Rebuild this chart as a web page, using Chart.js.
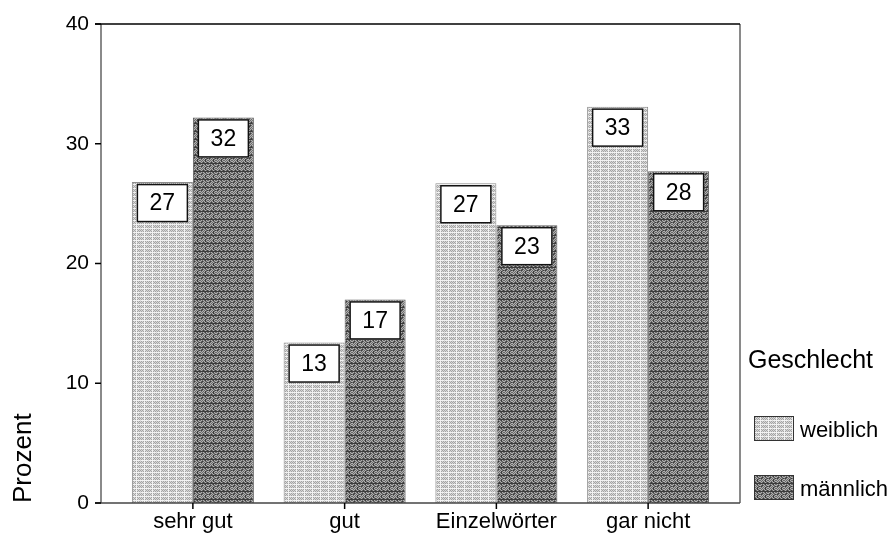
<!DOCTYPE html>
<html><head><meta charset="utf-8">
<script src="https://cdn.jsdelivr.net/npm/chart.js@4/dist/chart.umd.min.js"></script>
<style>html,body{margin:0;padding:0;background:#fff}#wrap{width:893px;height:536px;position:relative}</style>
</head><body><div id="wrap"><canvas id="c" width="893" height="536"></canvas></div>
<script>
const categories = ['sehr gut', 'gut', 'Einzelwörter', 'gar nicht'];
const weiblich = [26.8, 13.4, 26.7, 33.1];
const maennlich = [32.2, 17.0, 23.2, 27.7];
const seriesNames = ['weiblich', 'männlich'];
const legendTitle = 'Geschlecht';
const yTitle = 'Prozent';
const yMin = 0, yMax = 40, yStep = 10;

const FONT = '"Liberation Sans", Arial, sans-serif';
const canvas = document.getElementById('c');
const ctx = canvas.getContext('2d');

// 8x8 texture maps: 0 = base A, 1 = base B, 2 = line colour
function makePattern(colors, map) {
  const c = document.createElement('canvas'); c.width = 8; c.height = 8;
  const g = c.getContext('2d');
  for (let y = 0; y < 8; y++) for (let x = 0; x < 8; x++) {
    g.fillStyle = colors[map[y][x]]; g.fillRect(x, y, 1, 1);
  }
  return ctx.createPattern(c, 'repeat');
}
const lightMap = [
  '22222222',
  '20101010',
  '21010101',
  '20101010',
  '22221222',
  '20101010',
  '21010101',
  '20101010'
].map(r => r.split('').map(Number));
const darkMap = [
  '01010210',
  '10101201',
  '01020102',
  '22222222',
  '01010210',
  '10201001',
  '02010102',
  '10101201'
].map(r => r.split('').map(Number));
const lightPat = makePattern(['#a4a4a4', '#d8d8d8', '#f2f2f2'], lightMap);
const darkPat = makePattern(['#6a6a6a', '#b0b0b0', '#3c3c3c'], darkMap);
const fills = [lightPat, darkPat];

const FRAME_GAP = 16;

const decor = {
  id: 'decor',
  afterDatasetsDraw(chart) {
    const c = chart.ctx;
    c.save();
    chart.data.datasets.forEach((ds, di) => {
      const meta = chart.getDatasetMeta(di);
      meta.data.forEach((el, i) => {
        const w = el.width - 10, h = 38;
        const left = el.x - w / 2, top = el.y + 2;
        c.fillStyle = '#fff';
        c.fillRect(left, top, w, h);
        c.strokeStyle = '#111'; c.lineWidth = 1.5;
        c.strokeRect(left + 0.5, top + 0.5, w - 1, h - 1);
        c.fillStyle = '#000';
        c.font = '23px ' + FONT;
        c.textAlign = 'center'; c.textBaseline = 'middle';
        c.fillText(String(Math.round(ds.data[i])), el.x, top + h / 2 + 1);
      });
    });
    c.restore();
  },
  afterDraw(chart) {
    const c = chart.ctx, a = chart.chartArea;
    const L = a.left - FRAME_GAP, R = a.right + FRAME_GAP;
    const T = a.top, B = a.bottom;
    c.save();
    c.strokeStyle = '#8a8a8a'; c.lineWidth = 2;
    c.beginPath(); c.moveTo(L, T); c.lineTo(L, B); c.stroke();
    c.beginPath(); c.moveTo(R, T); c.lineTo(R, B); c.stroke();
    c.strokeStyle = '#000'; c.lineWidth = 1.5;
    c.beginPath(); c.moveTo(L - 6, T); c.lineTo(R, T); c.stroke();
    c.strokeStyle = '#444'; c.lineWidth = 1.5;
    c.beginPath(); c.moveTo(L - 6, B); c.lineTo(R, B); c.stroke();
    const ys = chart.scales.y;
    c.strokeStyle = '#000'; c.lineWidth = 1.5;
    ys.ticks.forEach(t => {
      const py = ys.getPixelForValue(t.value);
      c.beginPath(); c.moveTo(L - 6, py); c.lineTo(L, py); c.stroke();
    });
    const xs = chart.scales.x;
    categories.forEach((_, i) => {
      const px = xs.getPixelForValue(i);
      c.beginPath(); c.moveTo(px, B); c.lineTo(px, B + 6); c.stroke();
    });
    // legend
    const lx = R + 8;
    c.fillStyle = '#000';
    c.textAlign = 'left'; c.textBaseline = 'alphabetic';
    c.font = '25px ' + FONT;
    c.fillText(legendTitle, lx, T + 344);
    const rows = [T + 392, T + 451];
    seriesNames.forEach((n, i) => {
      const sy = rows[i];
      c.fillStyle = fills[i];
      c.fillRect(lx + 6, sy, 40, 25);
      c.strokeStyle = '#333'; c.lineWidth = 1;
      c.strokeRect(lx + 6.5, sy + 0.5, 39, 24);
      c.fillStyle = '#000';
      c.font = '22px ' + FONT;
      c.fillText(n, lx + 52, sy + 21);
    });
    c.restore();
  }
};

new Chart(ctx, {
  type: 'bar',
  data: {
    labels: categories,
    datasets: [
      { label: seriesNames[0], data: weiblich, backgroundColor: lightPat, borderColor: '#8c8c8c', borderWidth: 1 },
      { label: seriesNames[1], data: maennlich, backgroundColor: darkPat, borderColor: '#5c5c5c', borderWidth: 1 }
    ]
  },
  options: {
    responsive: false,
    animation: false,
    devicePixelRatio: 1,
    categoryPercentage: 0.804,
    barPercentage: 1.0,
    layout: { padding: { top: 24, right: 169, left: 0, bottom: 0 } },
    plugins: { legend: { display: false }, tooltip: { enabled: false } },
    scales: {
      x: {
        offset: true,
        grid: { display: false, drawTicks: false },
        border: { display: false },
        ticks: { color: '#000', font: { family: FONT, size: 22 }, padding: 6, maxRotation: 0, autoSkip: false },
        afterFit(s) { s.height = 33; s.paddingLeft = 0; s.paddingRight = 0; }
      },
      y: {
        min: yMin, max: yMax,
        grid: { display: false, drawTicks: false },
        border: { display: false },
        ticks: { stepSize: yStep, color: '#000', font: { family: FONT, size: 21 }, padding: 28 },
        title: { display: true, text: yTitle, align: 'start', color: '#000', font: { family: FONT, size: 26 }, padding: { top: 8, bottom: 0 } },
        afterFit(s) { s.width = 117; s.paddingTop = 0; s.paddingBottom = 0; }
      }
    }
  },
  plugins: [decor]
});
</script>
</body></html>
